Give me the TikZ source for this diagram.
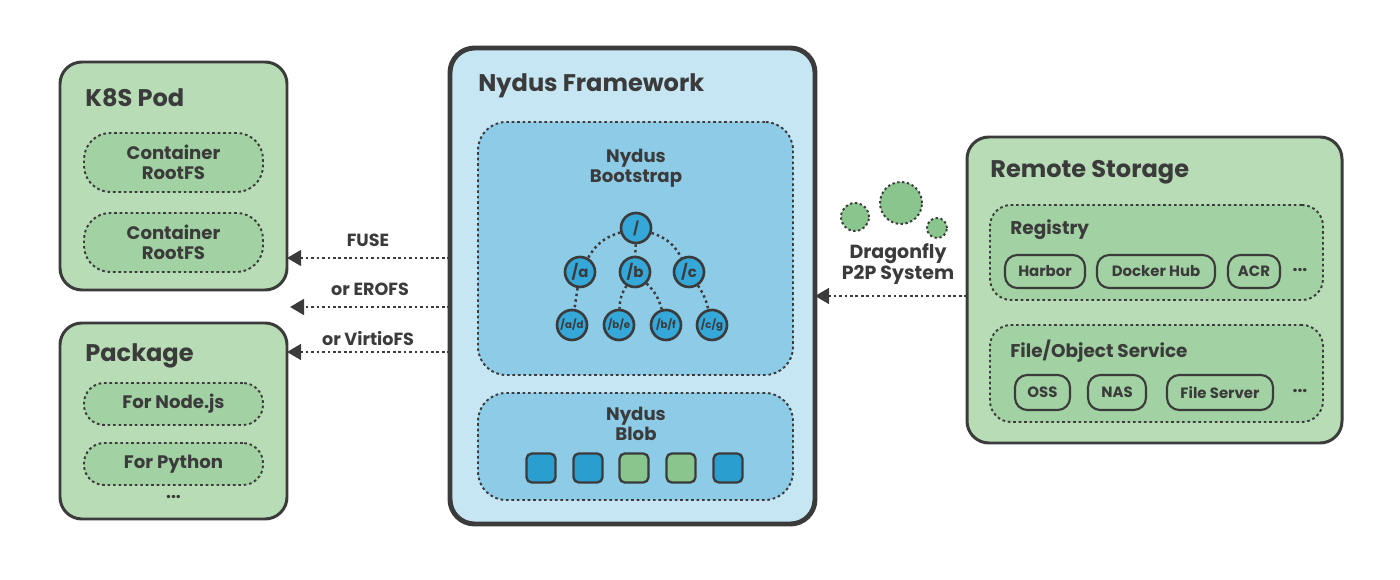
\documentclass[tikz,border=0pt]{standalone}
\usepackage{fontspec}
\setmainfont{Poppins}
\usetikzlibrary{arrows.meta}
\definecolor{ink}{HTML}{3B3B3B}
\definecolor{gbox}{HTML}{B8DCB6}
\definecolor{gin}{HTML}{A2D1A3}
\definecolor{bout}{HTML}{C7E6F4}
\definecolor{bin}{HTML}{8DCBE7}
\definecolor{bnode}{HTML}{35A7D8}
\definecolor{bsq}{HTML}{2B9ED0}
\definecolor{gsq}{HTML}{8AC58E}
\tikzset{
  sz/.style 2 args={minimum width=#1*0.02cm, minimum height=#2*0.02cm},
  gouter/.style={draw=ink, line width=1.7pt, fill=gbox, rounded corners=12.5pt, inner sep=0pt, outer sep=0pt},
  bouter/.style={draw=ink, line width=2.8pt, fill=bout, rounded corners=14pt, inner sep=0pt, outer sep=0pt},
  dbox/.style={draw=ink, line width=1.1pt, dash pattern=on 1.5pt off 1.6pt, inner sep=0pt, outer sep=0pt},
  gdash/.style={dbox, fill=gin},
  bdash/.style={dbox, fill=bin},
  pill/.style={draw=ink, line width=1.2pt, rounded corners=7pt, inner sep=0pt, outer sep=0pt, font=\bfseries\fontsize{8.5}{10}\selectfont, text=ink},
  ttl/.style={anchor=west, font=\bfseries\fontsize{13.7}{16}\selectfont, text=ink, inner sep=0pt},
  sub/.style={anchor=west, font=\bfseries\fontsize{10.5}{12}\selectfont, text=ink, inner sep=0pt},
  mid/.style={align=center, font=\bfseries\fontsize{10.3}{11.2}\selectfont, text=ink, inner sep=0pt},
  lbl/.style={font=\fontsize{10}{11}\selectfont\bfseries, text=ink, inner sep=0pt},
  dots/.style={font=\fontsize{10}{11}\selectfont\bfseries, text=ink, inner sep=0pt},
  tnode/.style={circle, draw=ink, line width=1.5pt, fill=bnode, minimum size=30*0.02cm, inner sep=0pt, text=ink},
  tedge/.style={draw=ink, line width=1.4pt, dash pattern=on 1.4pt off 1.8pt},
  sq/.style={draw=ink, line width=1.3pt, rounded corners=3pt, minimum size=29*0.02cm, inner sep=0pt},
  arr/.style={draw=ink, line width=1.2pt, dash pattern=on 1.5pt off 1.6pt, -{Triangle[length=8pt,width=9pt]}},
  bubble/.style={circle, draw=ink, line width=1.1pt, dash pattern=on 1.3pt off 1.5pt, fill=gsq, inner sep=0pt},
}
\begin{document}
\begin{tikzpicture}[x=0.02cm, y=-0.02cm]
\useasboundingbox (0,0) rectangle (1400,580);

% K8S Pod
\node[gouter, sz={227}{228}] (k8s) at (173.5,176) {};
\node[ttl] (k8st) at (85,98) {K8S Pod};
\node[gdash, rounded corners=15pt, sz={179}{59}, mid] (c1) at (173.5,162.5) {Container\\RootFS};
\node[gdash, rounded corners=15pt, sz={179}{59}, mid] (c2) at (173.5,242.5) {Container\\RootFS};

% Package
\node[gouter, sz={227}{196}] (pkg) at (173.5,421) {};
\node[ttl] (pkgt) at (85,356) {Package};
\node[gdash, rounded corners=11.5pt, sz={179}{42}, mid] (pn) at (173.5,404) {For Node.js};
\node[gdash, rounded corners=11.5pt, sz={179}{42}, mid] (pp) at (173.5,464) {For Python};
\node[dots] (pd) at (173.5,497) {...};

% Nydus framework
\node[bouter, sz={365}{476}] (ny) at (632.5,286) {};
\node[ttl] (nyt) at (478,86) {Nydus Framework};
\node[bdash, rounded corners=16pt, sz={315}{253}] (boot) at (635.5,248.5) {};
\node[mid] (boott) at (636,168) {Nydus\\Bootstrap};
\node[bdash, rounded corners=16pt, sz={315}{107}] (blob) at (635.5,446.5) {};
\node[mid] (blobt) at (636,424) {Nydus\\Blob};

% tree
\node[tnode, font=\bfseries\fontsize{7.5}{8}\selectfont] (r) at (636,228) {/};
\node[tnode, font=\bfseries\fontsize{8.5}{9}\selectfont] (a) at (580,272) {/a};
\node[tnode, font=\bfseries\fontsize{8.5}{9}\selectfont] (b) at (635,272) {/b};
\node[tnode, font=\bfseries\fontsize{8.5}{9}\selectfont] (c) at (689,272) {/c};
\node[tnode, font=\bfseries\fontsize{5.8}{6}\selectfont] (ad) at (572,325) {/a/d};
\node[tnode, font=\bfseries\fontsize{5.8}{6}\selectfont] (be) at (619,325) {/b/e};
\node[tnode, font=\bfseries\fontsize{5.8}{6}\selectfont] (bf) at (666,325) {/b/f};
\node[tnode, font=\bfseries\fontsize{5.8}{6}\selectfont] (cg) at (712,325) {/c/g};
\draw[tedge] (r) to[bend right=22] (a);
\draw[tedge] (r) -- (b);
\draw[tedge] (r) to[bend left=22] (c);
\draw[tedge] (a) -- (ad);
\draw[tedge] (b) to[bend right=15] (be);
\draw[tedge] (b) to[bend left=15] (bf);
\draw[tedge] (c) to[bend left=10] (cg);

% blob squares
\node[sq, fill=bsq] (s1) at (541,468) {};
\node[sq, fill=bsq] (s2) at (588,468) {};
\node[sq, fill=gsq] (s3) at (634,468) {};
\node[sq, fill=gsq] (s4) at (681,468) {};
\node[sq, fill=bsq] (s5) at (728,468) {};

% Remote storage
\node[gouter, sz={375}{306}] (rs) at (1154.5,290) {};
\node[ttl] (rst) at (990,172) {Remote Storage};
\node[gdash, rounded corners=12pt, sz={333}{95}] (reg) at (1156.5,252.5) {};
\node[sub] (regt) at (1010,230) {Registry};
\node[pill, sz={80}{33}] (harbor) at (1045,271.5) {Harbor};
\node[pill, sz={118}{33}] (hub) at (1156,271.5) {Docker Hub};
\node[pill, sz={52}{33}] (acr) at (1254,271.5) {ACR};
\node[dots] (regd) at (1300,270) {...};
\node[gdash, rounded corners=12pt, sz={333}{97}] (fos) at (1156.5,373.5) {};
\node[sub] (fost) at (1010,351) {File/Object Service};
\node[pill, sz={55}{35}] (oss) at (1042.5,392.5) {OSS};
\node[pill, sz={58}{35}] (nas) at (1117,392.5) {NAS};
\node[pill, sz={106}{35}] (fsv) at (1220,392.5) {File Server};
\node[dots] (fosd) at (1300,391) {...};

% Dragonfly
\node[bubble, minimum size=28*0.02cm] (d1) at (855,217) {};
\node[bubble, minimum size=42*0.02cm] (d2) at (901,203) {};
\node[bubble, minimum size=20*0.02cm] (d3) at (937,228) {};
\node[mid, font=\bfseries\fontsize{10.8}{11.6}\selectfont] (dt) at (898,264) {Dragonfly\\P2P System};

% arrows
\coordinate (gap) at (290,307);
\draw[arr] (ny.west |- 0,258) -- (k8s.east |- 0,258);
\draw[arr] (ny.west |- gap) -- (gap);
\draw[arr] (ny.west |- 0,352) -- (pkg.east |- 0,352);
\node[lbl] (l1) at (368,240) {FUSE};
\node[lbl] (l2) at (370,289) {or EROFS};
\node[lbl] (l3) at (368,339) {or VirtioFS};
\draw[arr] (rs.west |- 0,296) -- (ny.east |- 0,296);
\end{tikzpicture}
\end{document}
